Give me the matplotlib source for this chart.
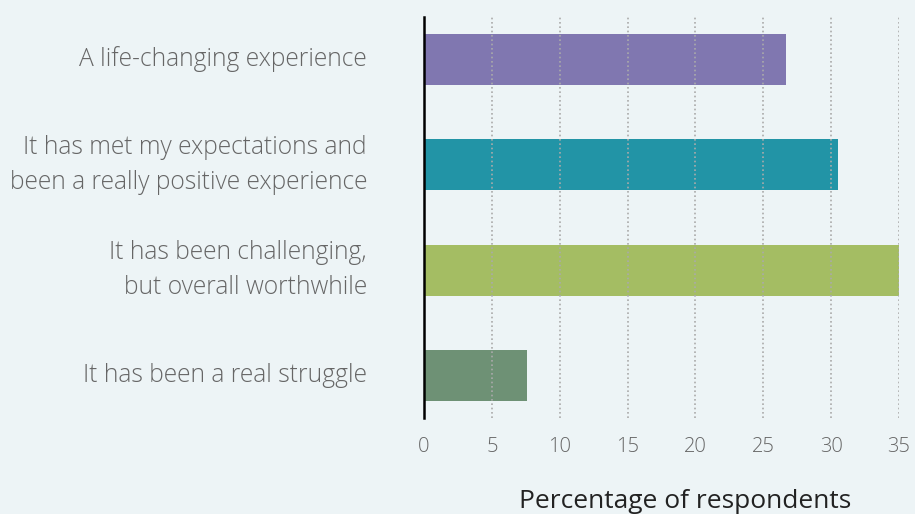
import matplotlib
matplotlib.use("Agg")
import matplotlib.pyplot as plt

categories = [
    "A life-changing experience",
    "It has met my expectations and\nbeen a really positive experience",
    "It has been challenging,\nbut overall worthwhile",
    "It has been a real struggle",
]
values = [26.7, 30.5, 35.0, 7.6]
colors = ["#8077b0", "#2294a6", "#a4bd63", "#6e9175"]
xticks = [0, 5, 10, 15, 20, 25, 30, 35]
xlabel = "Percentage of respondents"

bg = "#edf4f6"
fig = plt.figure(figsize=(9.15, 5.14), dpi=100, facecolor=bg)
ax = fig.add_axes([424/915, 1 - 418/514, (899 - 424)/915, (418 - 17)/514])
ax.set_facecolor(bg)

ypos = list(range(len(categories)))
ax.barh(ypos, values, height=0.485, color=colors, zorder=1)
ax.set_xlim(0, 35)
ax.set_ylim(3.4, -0.4)
ax.set_xticks(xticks)
ax.set_xticklabels([str(t) for t in xticks], fontsize=14.5, color="#666666", family="Open Sans",
                   fontweight="light")
ax.tick_params(axis="x", length=0, pad=14)
ax.set_yticks(ypos)
ax.set_yticklabels(categories, fontsize=17.7, color="#666666", family="Open Sans",
                   fontweight="light", linespacing=1.55, va="center")
ax.tick_params(axis="y", length=0, pad=41)
ax.grid(axis="x", linestyle=(0, (1, 1.6)), color="#aaaaaa", linewidth=1.2, zorder=2)
for s in ["top", "right", "bottom"]:
    ax.spines[s].set_visible(False)
ax.spines["left"].set_color("#000000")
ax.spines["left"].set_linewidth(1.8)
ax.spines["left"].set_zorder(3)
ax.set_xlabel(xlabel, fontsize=19, color="#222222", family="Open Sans", va="center")
ax.xaxis.set_label_coords((685 - 424) / 475, (418 - 501) / 401)
fig.savefig("out.png", dpi=100, facecolor=bg)
